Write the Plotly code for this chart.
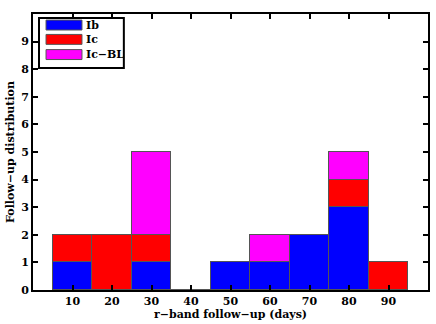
import plotly.graph_objects as go

bins = [10, 20, 30, 40, 50, 60, 70, 80, 90]
ib = [1, 0, 1, 0, 1, 1, 2, 3, 0]
ic = [1, 2, 1, 0, 0, 0, 0, 1, 1]
icbl = [0, 0, 3, 0, 0, 1, 0, 1, 0]
names = ["Ib", "Ic", "Ic\u2212BL"]
colors = ["#0000FF", "#FF0000", "#FF00FF"]
series = [ib, ic, icbl]

FONT = "DejaVu Serif"

fig = go.Figure()
for name, vals, col in zip(names, series, colors):
    fig.add_trace(go.Bar(
        x=bins, y=vals, name=name, width=10,
        marker=dict(color=col, line=dict(color="#555555", width=1)),
        showlegend=False,
    ))

# manual legend (wide swatches as in the reference)
L_x0, L_x1 = 0.0152, 0.230
L_y0, L_y1 = 0.804, 0.9855
fig.add_shape(type="rect", xref="paper", yref="paper", x0=L_x0, x1=L_x1, y0=L_y0, y1=L_y1,
              line=dict(color="black", width=2), fillcolor="white", layer="above")
row_y = [0.96, 0.908, 0.853]
for name, col, yc in zip(names, colors, row_y):
    fig.add_shape(type="rect", xref="paper", yref="paper", x0=0.033, x1=0.124,
                  y0=yc - 0.018, y1=yc + 0.018, fillcolor=col,
                  line=dict(color="#555555", width=1), layer="above")
    fig.add_annotation(xref="paper", yref="paper", x=0.129, y=yc, text="<b>%s</b>" % name,
                       showarrow=False, xanchor="left", yanchor="middle",
                       font=dict(family=FONT, size=11, color="black"))

axis_common = dict(
    showline=True, linecolor="black", linewidth=2, mirror="allticks",
    ticks="inside", ticklen=5, tickwidth=2, tickcolor="black",
    showgrid=False, zeroline=False, automargin=False,
    tickfont=dict(family=FONT, size=11, color="black"),
)
fig.update_xaxes(range=[0, 100], tickvals=bins, ticktext=["<b>%d</b>" % b for b in bins],
                 title=dict(text="<b>r\u2212band follow\u2212up (days)</b>",
                            font=dict(family=FONT, size=11, color="black"), standoff=3),
                 **axis_common)
fig.update_yaxes(range=[0, 10], tickvals=list(range(0, 10)),
                 ticktext=["<b>%d</b>" % v for v in range(0, 10)],
                 title=dict(text="<b>Follow\u2212up distribution</b>",
                            font=dict(family=FONT, size=11, color="black"), standoff=4),
                 **axis_common)

fig.update_layout(
    barmode="stack", bargap=0,
    width=436, height=324,
    margin=dict(l=33, r=8, t=14, b=34),
    plot_bgcolor="white", paper_bgcolor="white",
)
fig.write_html("out.html", config={"displayModeBar": False},
               post_script="document.body.style.margin='0';document.body.style.overflow='hidden';")
